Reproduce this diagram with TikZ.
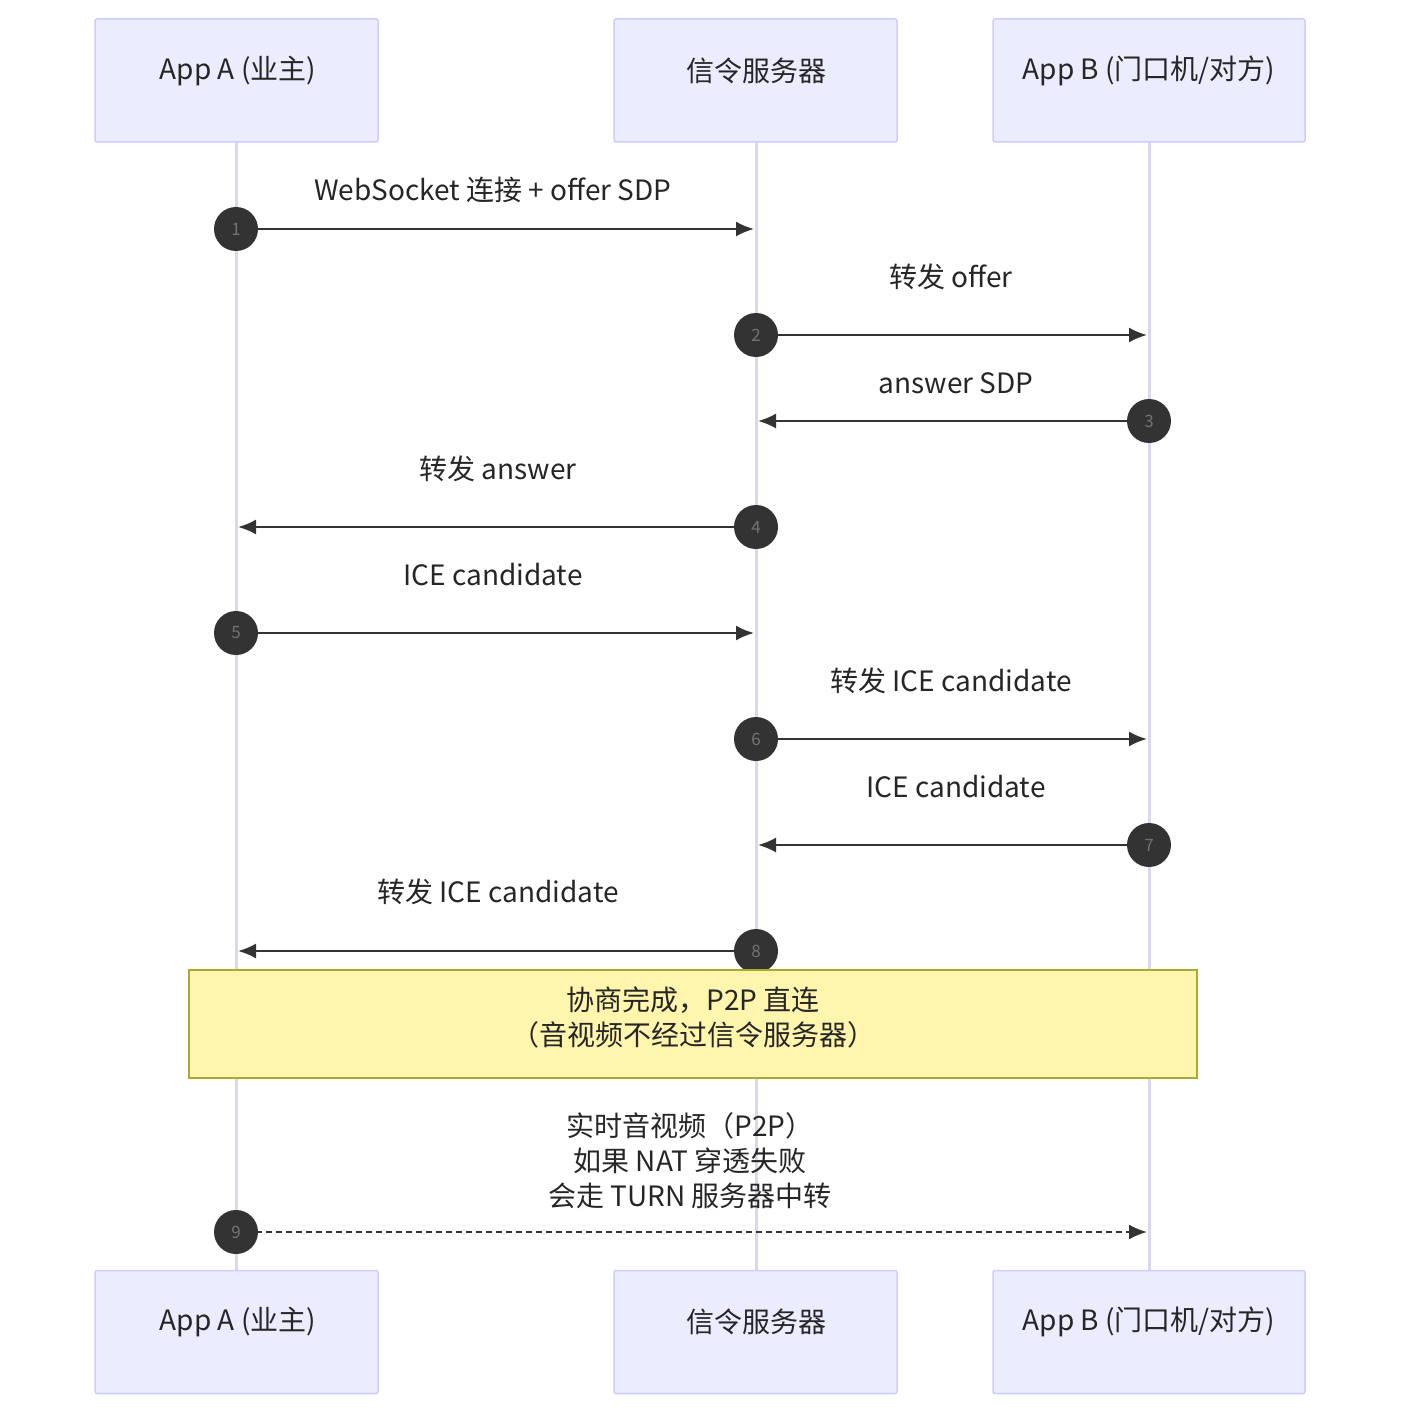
\documentclass[tikz,border=0pt]{standalone}
\usepackage{fontspec}
\setmainfont{Noto Sans CJK SC}
\usetikzlibrary{arrows.meta}
\definecolor{actfill}{HTML}{ECECFF}
\definecolor{actline}{HTML}{CCCCFF}
\definecolor{life}{HTML}{DCD6F0}
\definecolor{notefill}{HTML}{FFF5AD}
\definecolor{noteline}{HTML}{AAAA33}
\definecolor{dark}{HTML}{333333}
\begin{document}
\begin{tikzpicture}[x=1pt,y=-1pt,
 actor/.style={draw=actline,fill=actfill,line width=1.5pt,rounded corners=2pt,minimum width=283pt,minimum height=123pt},
 atext/.style={font=\fontsize{28}{35}\selectfont,text=black!85},
 msg/.style={draw=dark,line width=2.2pt,-{Latex[length=18pt,width=15pt]}},
 num/.style={circle,fill=dark,minimum size=44pt,inner sep=0pt,text=black!55,font=\fontsize{17}{20}\selectfont},
 lbl/.style={font=\fontsize{28}{35}\selectfont,text=black!85,align=center}]
\useasboundingbox (0,0) rectangle (1400,1415);
\coordinate (ta) at (236,142); \coordinate (ba) at (236,1271);
\coordinate (ts) at (756,142); \coordinate (bs) at (756,1271);
\coordinate (tb) at (1149,142); \coordinate (bb) at (1149,1271);
\foreach \t/\b in {ta/ba,ts/bs,tb/bb} \draw[life,line width=3pt] (\t)--(\b);
\node[actor] (A1) at (236.5,80.5) {};
\node[actor] (S1) at (755.5,80.5) {};
\node[actor,minimum width=312pt] (B1) at (1149,80.5) {};
\node[actor] (A2) at (236.5,1332) {};
\node[actor] (S2) at (755.5,1332) {};
\node[actor,minimum width=312pt] (B2) at (1149,1332) {};
\node[atext] at (238,71) {App A (业主)};
\node[atext] at (756,71) {信令服务器};
\node[atext] at (1149,71) {App B (门口机/对方)};
\node[atext] at (238,1322) {App A (业主)};
\node[atext] at (756,1322) {信令服务器};
\node[atext] at (1149,1322) {App B (门口机/对方)};
\foreach \i/\y in {1/229,2/335,3/421,4/527,5/633,6/739,7/845,8/951,9/1232}{
 \coordinate (a\i) at (236,\y); \coordinate (s\i) at (756,\y); \coordinate (b\i) at (1149,\y);}
\draw[msg] (a1)--([xshift=-2pt]s1); \node[num] at (a1){1};
\node[lbl] at (493,190){WebSocket 连接 + offer SDP};
\draw[msg] (s2)--([xshift=-2pt]b2); \node[num] at (s2){2};
\node[lbl] at (951,277){转发 offer};
\draw[msg] (b3)--([xshift=2pt]s3); \node[num] at (b3){3};
\node[lbl] at (956,383){answer SDP};
\draw[msg] (s4)--([xshift=2pt]a4); \node[num] at (s4){4};
\node[lbl] at (498,469){转发 answer};
\draw[msg] (a5)--([xshift=-2pt]s5); \node[num] at (a5){5};
\node[lbl] at (493,575){ICE candidate};
\draw[msg] (s6)--([xshift=-2pt]b6); \node[num] at (s6){6};
\node[lbl] at (951,681){转发 ICE candidate};
\draw[msg] (b7)--([xshift=2pt]s7); \node[num] at (b7){7};
\node[lbl] at (956,787){ICE candidate};
\draw[msg] (s8)--([xshift=2pt]a8); \node[num] at (s8){8};
\node[lbl] at (498,892){转发 ICE candidate};
\node[draw=noteline,fill=notefill,line width=1.3pt,minimum width=1008pt,minimum height=108pt] (note) at (693,1024) {};
\node[lbl] at (693,1017) {协商完成，P2P 直连\\（音视频不经过信令服务器）};
\draw[msg,dashed,dash pattern=on 6pt off 4pt] (a9)--([xshift=-2pt]b9); \node[num] at (a9){9};
\node[lbl] at (690,1161){实时音视频（P2P）\\如果 NAT 穿透失败\\会走 TURN 服务器中转};
\end{tikzpicture}
\end{document}
